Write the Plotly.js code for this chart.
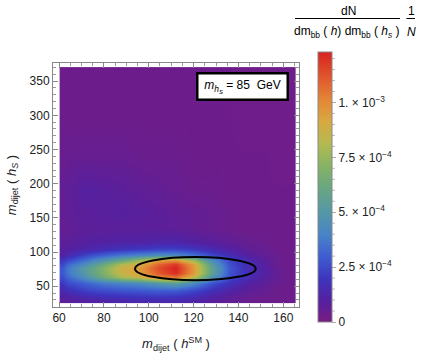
<!DOCTYPE html>
<html>
<head>
<meta charset="utf-8">
<script src="https://cdn.plot.ly/plotly-3.0.1.min.js"></script>
<style>
  html, body { margin: 0; padding: 0; background: #fff; }
  #chart { width: 421px; height: 364px; }
</style>
</head>
<body>
<div id="chart"></div>
<script>
// grid centres, dijet masses in GeV
const mDijetSM = [61.5, 64, 72, 80, 88, 96, 104, 112, 120, 128, 136, 144, 152, 158, 163];
const mDijetS = [27, 30, 36, 44, 54, 63, 70, 76, 82, 88, 96, 104, 115, 135, 160, 190, 240, 300, 360, 367];

// dN/(dm dm) 1/N in units of 1e-4, one row per mDijetS value
const density = [
  [0.7, 0.8, 1.0, 1.1, 1.2, 1.3, 1.3, 1.3, 1.1, 0.8, 0.6, 0.4, 0.3, 0.3, 0.3],
  [0.8, 0.9, 1.1, 1.3, 1.4, 1.5, 1.5, 1.5, 1.3, 0.9, 0.7, 0.5, 0.4, 0.3, 0.3],
  [1.0, 1.2, 1.5, 1.8, 1.9, 2.0, 2.1, 2.0, 1.7, 1.2, 0.8, 0.5, 0.4, 0.3, 0.3],
  [1.4, 1.8, 2.3, 2.6, 2.8, 2.9, 3.0, 3.0, 2.5, 1.8, 1.2, 0.8, 0.5, 0.3, 0.3],
  [2.0, 2.5, 3.1, 3.7, 4.0, 4.3, 4.9, 5.4, 4.2, 2.7, 1.8, 1.1, 0.7, 0.4, 0.3],
  [2.6, 3.2, 4.6, 6.3, 7.8, 8.6, 10.0, 10.5, 8.4, 4.8, 2.5, 1.6, 0.9, 0.5, 0.3],
  [2.8, 3.6, 5.2, 6.9, 8.6, 9.4, 11.0, 12.0, 9.6, 5.6, 2.7, 1.7, 1.0, 0.5, 0.35],
  [2.8, 3.7, 5.3, 7.0, 8.8, 9.6, 11.3, 12.3, 9.6, 5.8, 2.8, 1.7, 1.0, 0.5, 0.35],
  [2.4, 3.2, 4.5, 6.2, 8.0, 9.0, 10.8, 11.8, 9.3, 5.3, 2.6, 1.6, 0.9, 0.4, 0.3],
  [2.0, 2.4, 3.5, 4.8, 6.0, 7.5, 9.4, 9.8, 7.6, 4.4, 2.4, 1.5, 0.8, 0.4, 0.3],
  [1.0, 1.5, 2.4, 3.1, 3.7, 4.1, 4.5, 4.3, 3.5, 2.5, 1.6, 1.0, 0.6, 0.4, 0.3],
  [0.9, 1.0, 1.3, 1.6, 1.9, 2.1, 2.3, 2.3, 2.0, 1.5, 1.1, 0.7, 0.5, 0.3, 0.3],
  [0.8, 0.8, 1.0, 1.1, 1.2, 1.2, 1.3, 1.3, 1.1, 0.9, 0.7, 0.5, 0.4, 0.3, 0.3],
  [0.6, 0.6, 0.8, 0.8, 0.8, 0.8, 0.8, 0.7, 0.6, 0.5, 0.4, 0.3, 0.3, 0.3, 0.3],
  [0.6, 0.7, 0.8, 0.9, 1.0, 0.9, 0.8, 0.7, 0.6, 0.5, 0.4, 0.3, 0.3, 0.3, 0.3],
  [0.6, 0.7, 1.0, 0.9, 0.8, 0.7, 0.6, 0.5, 0.4, 0.4, 0.3, 0.3, 0.3, 0.3, 0.3],
  [0.4, 0.5, 0.5, 0.5, 0.5, 0.4, 0.4, 0.4, 0.3, 0.3, 0.3, 0.3, 0.3, 0.25, 0.25],
  [0.3, 0.3, 0.3, 0.3, 0.3, 0.3, 0.3, 0.3, 0.3, 0.3, 0.3, 0.25, 0.25, 0.25, 0.25],
  [0.3, 0.3, 0.3, 0.3, 0.3, 0.3, 0.3, 0.3, 0.3, 0.3, 0.3, 0.25, 0.25, 0.25, 0.25],
  [0.3, 0.3, 0.3, 0.3, 0.3, 0.3, 0.3, 0.3, 0.3, 0.3, 0.3, 0.25, 0.25, 0.25, 0.25]
];

// signal region ellipse (GeV)
const ellipseCentre = [120.8, 75.8];
const ellipseHalfAxes = [26.9, 17.0];

const cbTickVals = [0, 2.5, 5, 7.5, 10];
const cbTickText = ['0', '2.5 × 10<sup>−4</sup>', '5. × 10<sup>−4</sup>', '7.5 × 10<sup>−4</sup>', '1. × 10<sup>−3</sup>'];
const zTop = 12.3;

// Mathematica-like "Rainbow"
const rainbow = [
  [0.00, 'rgb(120,28,130)'],
  [0.08, 'rgb(85,32,160)'],
  [0.16, 'rgb(62,52,190)'],
  [0.24, 'rgb(62,92,210)'],
  [0.32, 'rgb(72,130,200)'],
  [0.41, 'rgb(85,152,165)'],
  [0.50, 'rgb(105,167,128)'],
  [0.58, 'rgb(135,180,100)'],
  [0.66, 'rgb(180,185,80)'],
  [0.74, 'rgb(215,170,65)'],
  [0.82, 'rgb(228,135,55)'],
  [0.90, 'rgb(225,90,45)'],
  [1.00, 'rgb(217,33,32)']
];

const W = 421, H = 364;
const M = {l: 53, r: 122, t: 63, b: 57};
const px = x => (x - M.l) / (W - M.l - M.r);
const py = y => (H - M.b - y) / (H - M.t - M.b);

// colour bar box in pixels
const cb = {left: 317.5, thick: 13.5, top: 52, bottom: 322};

const heat = {
  type: 'heatmap',
  x: mDijetSM,
  y: mDijetS,
  z: density,
  zmin: 0,
  zmax: zTop,
  zsmooth: 'best',
  colorscale: rainbow,
  hoverinfo: 'skip',
  colorbar: {
    x: px(cb.left), xanchor: 'left', xpad: 0,
    y: py(cb.bottom), yanchor: 'bottom', ypad: 0,
    len: (cb.bottom - cb.top) / (H - M.t - M.b), lenmode: 'fraction',
    thickness: cb.thick, thicknessmode: 'pixels',
    outlinecolor: '#888', outlinewidth: 1,
    ticks: 'outside', ticklen: 4, tickcolor: '#aaa', tickwidth: 1,
    tickvals: cbTickVals, ticktext: cbTickText,
    tickfont: {size: 12, color: '#222'}
  }
};

const axisStyle = {
  showgrid: false, zeroline: false,
  showline: true, linecolor: '#888', linewidth: 1, mirror: 'allticks',
  ticks: 'inside', ticklen: 5, tickcolor: '#888', tickwidth: 1,
  tickfont: {size: 12, color: '#222'},
  minor: {ticks: 'inside', ticklen: 3, tickcolor: '#999'}
};

const shapes = [
  {type: 'circle', xref: 'x', yref: 'y',
   x0: ellipseCentre[0] - ellipseHalfAxes[0], x1: ellipseCentre[0] + ellipseHalfAxes[0],
   y0: ellipseCentre[1] - ellipseHalfAxes[1], y1: ellipseCentre[1] + ellipseHalfAxes[1],
   line: {color: '#000', width: 2}},
  {type: 'line', xref: 'paper', yref: 'paper', x0: px(295), x1: px(400), y0: py(18.5), y1: py(18.5),
   line: {color: '#000', width: 1}},
  {type: 'line', xref: 'paper', yref: 'paper', x0: px(406.5), x1: px(415), y0: py(18.5), y1: py(18.5),
   line: {color: '#000', width: 1}}
];
// minor ticks on the colour bar every 0.5e-4
for (let v = 0.5; v < zTop; v += 0.5) {
  if (cbTickVals.includes(v)) continue;
  const yy = py(cb.bottom - v / zTop * (cb.bottom - cb.top));
  shapes.push({type: 'line', xref: 'paper', yref: 'paper',
    x0: px(cb.left + cb.thick), x1: px(cb.left + cb.thick + 4), y0: yy, y1: yy,
    line: {color: '#bbb', width: 1}});
}

const frac = (x, y, text) => ({xref: 'paper', yref: 'paper', x: px(x), y: py(y),
  xanchor: 'center', yanchor: 'middle', showarrow: false, text: text, font: {size: 12, color: '#000'}});

const layout = {
  width: W, height: H,
  margin: M,
  paper_bgcolor: '#fff', plot_bgcolor: '#fff',
  font: {family: 'Liberation Sans, Arial, sans-serif', size: 11, color: '#222'},
  showlegend: false,
  xaxis: Object.assign({}, axisStyle, {
    range: [57.3, 167], tick0: 60, dtick: 20,
    minor: Object.assign({}, axisStyle.minor, {dtick: 5}),
    title: {text: '<i>m</i><sub>dijet</sub> ( <i>h</i><sup>SM</sup> )', font: {size: 13}, standoff: 14}
  }),
  yaxis: Object.assign({}, axisStyle, {
    range: [19.7, 376.5], tick0: 0, dtick: 50,
    minor: Object.assign({}, axisStyle.minor, {dtick: 10}),
    title: {text: '<i>m</i><sub>dijet</sub> ( <i>h</i><sub><i>S</i></sub> )', font: {size: 13}, standoff: 10}
  }),
  shapes: shapes,
  annotations: [
    {xref: 'paper', yref: 'paper', x: px(242.5), y: py(86), xanchor: 'center', yanchor: 'middle',
     showarrow: false,
     text: '<i>m</i><sub><i>h<sub>S</sub></i></sub> = 85  GeV',
     font: {size: 12, color: '#000'}, width: 84, height: 20,
     bgcolor: '#fff', bordercolor: '#000', borderwidth: 2.5, borderpad: 2},
    frac(348, 11.5, 'dN'),
    frac(347, 32, 'dm<sub>bb</sub> ( <i>h</i>) dm<sub>bb</sub> ( <i>h</i><sub><i>s</i></sub> )'),
    frac(411, 11.5, '1'),
    frac(411, 31.5, '<i>N</i>')
  ]
};

Plotly.newPlot('chart', [heat], layout, {displayModeBar: false, staticPlot: true});
</script>
</body>
</html>
